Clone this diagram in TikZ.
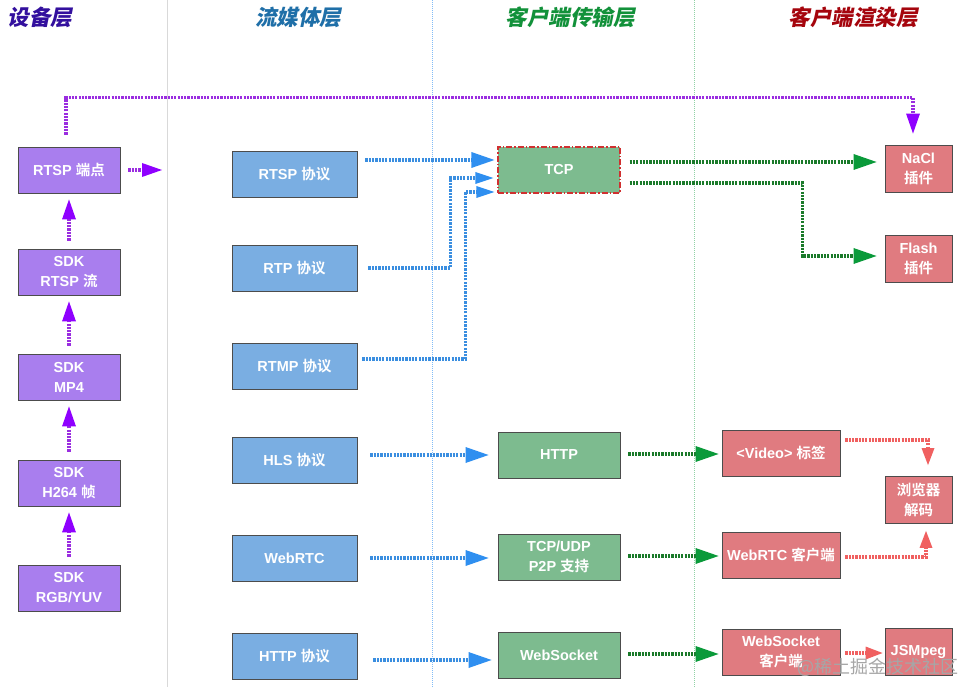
\documentclass[tikz,border=0pt]{standalone}
\usepackage{fontspec}
\setmainfont{Liberation Sans}
\newfontfamily\zhfont{Noto Sans CJK SC}[BoldFont={Noto Sans CJK SC Bold}]
\newfontfamily\zhhead{Noto Sans CJK SC Black}[FakeSlant=0.2]
\newfontfamily\zhwm{Noto Sans CJK SC}
\usetikzlibrary{arrows.meta,calc}
\newcommand\zh[1]{{\zhfont #1}}
\definecolor{devfill}{HTML}{A97EEE}
\definecolor{profill}{HTML}{7AAEE2}
\definecolor{trafill}{HTML}{7DBB8F}
\definecolor{renfill}{HTML}{E07B80}
\definecolor{pucol}{HTML}{8F00FF}
\definecolor{pulin}{HTML}{9A2DE0}
\definecolor{blcol}{HTML}{2F8FF0}
\definecolor{bllin}{HTML}{3A8EE0}
\definecolor{grcol}{HTML}{0A9A3A}
\definecolor{grlin}{HTML}{1A7A2A}
\definecolor{rdcol}{HTML}{F06060}
\definecolor{hdA}{HTML}{33109E}
\definecolor{hdB}{HTML}{1F6FA8}
\definecolor{hdC}{HTML}{12913A}
\definecolor{hdD}{HTML}{A5050D}
\definecolor{tcpedge}{HTML}{D03030}
\begin{document}
\begin{tikzpicture}[x=1pt,y=-1pt,
  boxbase/.style={draw=black!70, line width=0.9pt, text=white, inner sep=0pt, align=center,
    font=\bfseries\fontsize{14.5}{20}\selectfont, minimum height=46pt},
  devbox/.style={boxbase, fill=devfill, minimum width=102pt},
  probox/.style={boxbase, fill=profill, minimum width=125pt},
  trabox/.style={boxbase, fill=trafill, minimum width=122pt},
  renbox/.style={boxbase, fill=renfill, minimum width=118pt},
  smallbox/.style={boxbase, fill=renfill, minimum width=67pt, minimum height=47pt},
  dotline/.style={line width=3.2pt, dash pattern=on 2.2pt off 1.1pt},
  pu/.style={dotline, draw=pulin, -{Triangle[length=20pt,width=14pt,line width=0pt,fill=pucol,color=pucol]}},
  bl/.style={dotline, draw=bllin, -{Triangle[length=23pt,width=16pt,line width=0pt,fill=blcol,color=blcol]}},
  bls/.style={dotline, draw=bllin, -{Triangle[length=18pt,width=12pt,line width=0pt,fill=blcol,color=blcol]}},
  gr/.style={dotline, draw=grlin, -{Triangle[length=23pt,width=16pt,line width=0pt,fill=grcol,color=grcol]}},
  rd/.style={dotline, draw=rdcol, -{Triangle[length=17pt,width=13pt,line width=0pt,fill=rdcol,color=rdcol]}},
  head/.style={font=\zhhead\fontsize{21.5}{24}\selectfont}
]
\useasboundingbox (0,0) rectangle (964,687);
\fill[white] (0,0) rectangle (964,687);

% separators
\draw[black!15, line width=0.8pt] (167,0) -- (167,687);
\draw[blcol!60, line width=0.8pt, dash pattern=on 1pt off 1pt] (432,0) -- (432,687);
\draw[grcol!45, line width=0.8pt, dash pattern=on 1pt off 1pt] (694,0) -- (694,687);

% headers
\node[head, text=hdA] (hA) at (40,17) {设备层};
\node[head, text=hdB] (hB) at (298,17) {流媒体层};
\node[head, text=hdC] (hC) at (570,17) {客户端传输层};
\node[head, text=hdD] (hD) at (853,17) {客户端渲染层};

% device layer
\node[devbox] (dev1) at (69,170) {RTSP \zh{端点}};
\node[devbox] (dev2) at (69,272) {SDK\\RTSP \zh{流}};
\node[devbox] (dev3) at (69,377) {SDK\\MP4};
\node[devbox] (dev4) at (69,483) {SDK\\H264 \zh{帧}};
\node[devbox] (dev5) at (69,588) {SDK\\RGB/YUV};

% protocol layer
\node[probox] (p1) at (294.5,174) {RTSP \zh{协议}};
\node[probox] (p2) at (294.5,268) {RTP \zh{协议}};
\node[probox] (p3) at (294.5,366) {RTMP \zh{协议}};
\node[probox] (p4) at (294.5,460) {HLS \zh{协议}};
\node[probox] (p5) at (294.5,558) {WebRTC};
\node[probox] (p6) at (294.5,656) {HTTP \zh{协议}};

% transport layer
\node[trabox, draw=tcpedge, line width=1.2pt, dash pattern=on 6pt off 2pt on 1.5pt off 2pt] (tcp) at (559,170) {TCP};
\node[trabox] (http) at (559,455) {HTTP};
\node[trabox] (tu) at (559,557) {TCP/UDP\\P2P \zh{支持}};
\node[trabox] (ws) at (559,655) {WebSocket};

% render layer
\node[smallbox] (nacl) at (918.5,168.5) {NaCl\\\zh{插件}};
\node[smallbox] (flash) at (918.5,259) {Flash\\\zh{插件}};
\node[renbox] (video) at (781,453) {<Video> \zh{标签}};
\node[smallbox] (browser) at (918.5,500) {\zh{浏览器}\\\zh{解码}};
\node[renbox] (wrc) at (781,555) {WebRTC \zh{客户端}};
\node[renbox] (wsc) at (781,652) {WebSocket\\\zh{客户端}};
\node[smallbox] (jsm) at (918.5,652) {JSMpeg};

% device arrows
\draw[pu] ($(dev5.north)+(0,-8)$) -- ($(dev4.south)+(0,6)$);
\draw[pu] ($(dev4.north)+(0,-8)$) -- ($(dev3.south)+(0,6)$);
\draw[pu] ($(dev3.north)+(0,-8)$) -- ($(dev2.south)+(0,6)$);
\draw[pu] ($(dev2.north)+(0,-8)$) -- ($(dev1.south)+(0,6)$);
\coordinate (devout) at (162,170);
\draw[pu] ($(dev1.east)+(8,0)$) -- (devout);
\draw[pu] ($(dev1.north)+(-3,-12)$) -- ++(0,-37) -| ($(nacl.north)+(-5.5,-11)$);

% protocol -> transport
\draw[bl] ($(p1.east)+(8,-14)$) -- ($(tcp.west)+(-3,-10)$);
\draw[bls] ($(p2.east)+(11,0)$) -| ($(tcp.west)+(-47,8)$) -- ($(tcp.west)+(-4,8)$);
\draw[bls] ($(p3.east)+(5,-7)$) -| ($(tcp.west)+(-32,22)$) -- ($(tcp.west)+(-3,22)$);
\draw[bl] ($(p4.east)+(13,-5)$) -- ($(http.west)+(-9,0)$);
\draw[bl] ($(p5.east)+(13,0)$) -- ($(tu.west)+(-9,1)$);
\draw[bl] ($(p6.east)+(16,4)$) -- ($(ws.west)+(-6,5)$);

% transport -> render
\draw[gr] ($(tcp.east)+(9,-8)$) -- ($(nacl.west)+(-8,-6.5)$);
\draw[gr] ($(tcp.east)+(9,13)$) -| ($(flash.west)+(-82,-3)$) -- ($(flash.west)+(-8,-3)$);
\draw[gr] ($(http.east)+(8,-1)$) -- ($(video.west)+(-3,1)$);
\draw[gr] ($(tu.east)+(8,-1)$) -- ($(wrc.west)+(-3,1)$);
\draw[gr] ($(ws.east)+(8,-1)$) -- ($(wsc.west)+(-3,2)$);

% render arrows
\draw[rd] ($(video.east)+(5,-13)$) -| ($(browser.north)+(9.5,-11)$);
\draw[rd] ($(wrc.east)+(5,2)$) -| ($(browser.south)+(7.5,7)$);
\draw[rd] ($(wsc.east)+(5,1)$) -- ($(jsm.west)+(-2,1)$);

% watermark
\node[text=black!35, font=\zhwm\fontsize{18}{20}\selectfont, anchor=east] (wm) at (962,667) {@稀土掘金技术社区};
\end{tikzpicture}
\end{document}
